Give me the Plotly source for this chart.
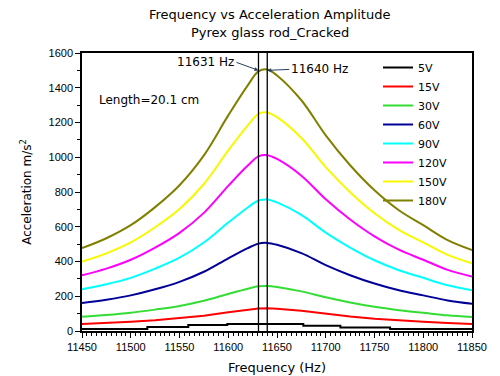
import plotly.graph_objects as go

freq = [11450, 11475, 11500, 11525, 11550, 11575, 11600, 11620, 11631, 11640,
        11650, 11675, 11700, 11725, 11750, 11775, 11800, 11825, 11850]

v180 = [477, 534, 609, 713, 839, 1011, 1241, 1414, 1494, 1505, 1471, 1328, 1126, 954, 810, 695, 609, 523, 466]
v150 = [399, 447, 510, 597, 702, 846, 1039, 1183, 1250, 1258, 1231, 1111, 943, 799, 678, 582, 510, 438, 390]
v120 = [321, 359, 410, 480, 565, 680, 835, 952, 1005, 1012, 990, 894, 758, 642, 545, 468, 410, 352, 314]
v90 = [240, 269, 306, 359, 422, 509, 624, 711, 751, 757, 740, 668, 566, 480, 407, 350, 306, 263, 234]
v60 = [161, 180, 205, 240, 283, 341, 418, 477, 503, 507, 496, 448, 379, 321, 273, 234, 205, 176, 157]
v30 = [82, 92, 105, 123, 144, 174, 213, 243, 257, 259, 253, 228, 194, 164, 139, 120, 105, 90, 80]
v15 = [41, 46, 53, 62, 73, 88, 108, 123, 130, 131, 128, 116, 98, 83, 70, 60, 53, 46, 41]

freq5 = [11450, 11517, 11559, 11599, 11677, 11715, 11766, 11850]
v5 = [12, 23, 35, 40, 30, 20, 12, 12]

peak_freqs = [11631, 11640]
peak_labels = ["11631 Hz", "11640 Hz"]
peak_value = 1500

title_lines = ["Frequency vs Acceleration Amplitude", "Pyrex glass rod_Cracked"]

series = [
    ("5V", freq5, v5, "#000000", "hv"),
    ("15V", freq, v15, "#ff0000", "linear"),
    ("30V", freq, v30, "#33dd33", "spline"),
    ("60V", freq, v60, "#000099", "spline"),
    ("90V", freq, v90, "#00ffff", "spline"),
    ("120V", freq, v120, "#ff00ff", "spline"),
    ("150V", freq, v150, "#f8f800", "spline"),
    ("180V", freq, v180, "#808000", "spline"),
]

WIDE = "DejaVu Sans, Verdana, sans-serif"
NARROW = "Liberation Sans, Arial, sans-serif"

fig = go.Figure()
for name, fx, fy, col, shp in series:
    fig.add_trace(go.Scatter(x=fx, y=fy, mode="lines", name=name,
                             line=dict(color=col, width=2, shape=shp)))

for pf in peak_freqs:
    fig.add_shape(type="line", xref="x", yref="y", x0=pf, x1=pf, y0=0, y1=1600,
                  line=dict(color="black", width=1.3))

fig.add_annotation(x=peak_freqs[0], y=peak_value, xref="x", yref="y", text=peak_labels[0],
                   showarrow=True, arrowhead=2, arrowsize=0.8, arrowwidth=1,
                   ax=-22, ay=-8, xanchor="right", font=dict(size=12, family=WIDE, color="black"))
fig.add_annotation(x=peak_freqs[1], y=peak_value, xref="x", yref="y", text=peak_labels[1],
                   showarrow=True, arrowhead=2, arrowsize=0.8, arrowwidth=1,
                   ax=22, ay=-1, xanchor="left", font=dict(size=12, family=WIDE, color="black"))
fig.add_annotation(x=0.038, y=0.831, xref="paper", yref="paper", text="Length=20.1 cm",
                   showarrow=False, xanchor="left", yanchor="middle",
                   font=dict(size=12, family=WIDE, color="black"))

fig.add_annotation(x=0.482, y=1.137, xref="paper", yref="paper", text=title_lines[0],
                   showarrow=False, xanchor="center", yanchor="middle",
                   font=dict(size=13, family=WIDE, color="black"))
fig.add_annotation(x=0.482, y=1.0755, xref="paper", yref="paper", text=title_lines[1],
                   showarrow=False, xanchor="center", yanchor="middle",
                   font=dict(size=13, family=WIDE, color="black"))

axis_common = dict(showline=True, linecolor="black", linewidth=1.5, mirror=True,
                   ticks="outside", tickcolor="black", showgrid=False, zeroline=False,
                   automargin=False,
                   tickfont=dict(size=11, family=NARROW, color="black"))

fig.update_xaxes(range=[11450, 11850], dtick=50, tick0=11450, ticklen=5, tickformat="d",
                 minor=dict(dtick=5, ticks="outside", ticklen=3, tickcolor="black"),
                 title=dict(text="Frequency (Hz)", font=dict(size=13, family=WIDE, color="black"), standoff=11),
                 **axis_common)
fig.update_yaxes(range=[0, 1600], dtick=200, ticklen=5,
                 minor=dict(dtick=100, ticks="outside", ticklen=3, tickcolor="black"),
                 title=dict(text="Acceleration m/s<sup>2</sup>", font=dict(size=12, family=WIDE, color="black"), standoff=14),
                 **axis_common)

fig.update_layout(
    width=500, height=376,
    margin=dict(l=82, r=28, t=53, b=45),
    paper_bgcolor="white", plot_bgcolor="white",
    font=dict(family=NARROW, color="black"),
    legend=dict(x=0.759, y=1.0, xanchor="left", yanchor="top", bgcolor="rgba(0,0,0,0)",
                font=dict(size=11, family=WIDE, color="black"), tracegroupgap=0, itemwidth=30),
    showlegend=True,
)

fig.write_html("out.html", config={"displayModeBar": False},
               post_script="document.body.style.margin='0';")
